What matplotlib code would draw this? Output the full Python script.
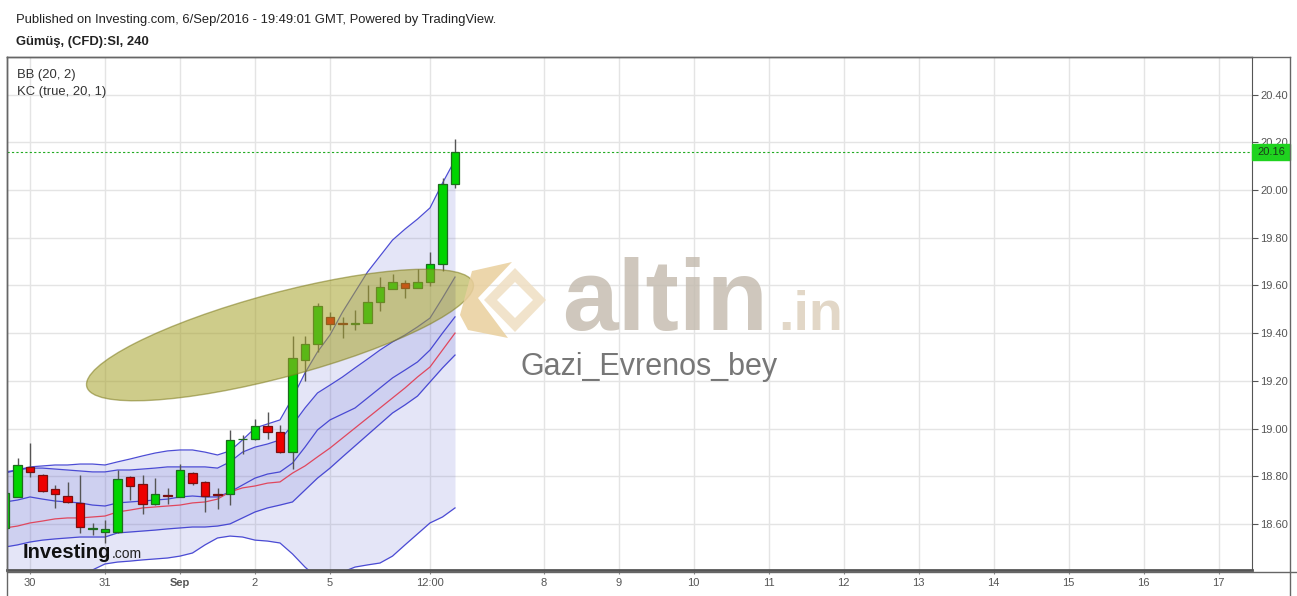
import numpy as np
import matplotlib
matplotlib.use("Agg")
import matplotlib.pyplot as plt
from matplotlib.patches import Ellipse, Rectangle, Polygon
from matplotlib.lines import Line2D
from matplotlib.transforms import Affine2D, blended_transform_factory

plt.rcParams['font.family'] = ['Liberation Sans', 'DejaVu Sans']

W, H = 1297, 596

# 4h candles (silver CFD)
opens  = [18.583, 18.713, 18.839, 18.805, 18.746, 18.717, 18.688, 18.577, 18.566, 18.566,
          18.797, 18.767, 18.683, 18.719, 18.713, 18.813, 18.776, 18.723, 18.725, 18.954,
          18.956, 19.010, 18.985, 18.901, 19.287, 19.354, 19.468, 19.442, 19.440, 19.442,
          19.530, 19.585, 19.610, 19.589, 19.614, 19.690, 20.025]
highs  = [18.742, 18.876, 18.939, 18.809, 18.763, 18.776, 18.805, 18.604, 18.616, 18.826,
          18.801, 18.805, 18.792, 18.751, 18.851, 18.818, 18.780, 18.751, 18.994, 18.973,
          19.040, 19.069, 19.015, 19.388, 19.388, 19.526, 19.488, 19.468, 19.497, 19.602,
          19.635, 19.648, 19.623, 19.669, 19.740, 20.050, 20.214]
lows   = [18.574, 18.713, 18.797, 18.734, 18.667, 18.688, 18.562, 18.553, 18.520, 18.562,
          18.700, 18.642, 18.679, 18.683, 18.713, 18.763, 18.650, 18.662, 18.679, 18.893,
          18.952, 18.956, 18.897, 18.830, 19.199, 19.321, 19.413, 19.379, 19.413, 19.442,
          19.493, 19.585, 19.547, 19.589, 19.597, 19.660, 20.008]
closes = [18.730, 18.847, 18.818, 18.738, 18.725, 18.692, 18.587, 18.579, 18.579, 18.788,
          18.759, 18.683, 18.725, 18.717, 18.826, 18.772, 18.717, 18.721, 18.952, 18.956,
          19.010, 18.985, 18.901, 19.296, 19.354, 19.514, 19.438, 19.440, 19.442, 19.530,
          19.593, 19.614, 19.589, 19.614, 19.690, 20.025, 20.160]

# Bollinger (20, 2)
bb_upper = [18.813, 18.826, 18.839, 18.843, 18.847, 18.847, 18.851, 18.851, 18.847, 18.860,
            18.872, 18.885, 18.897, 18.906, 18.910, 18.910, 18.901, 18.889, 18.906, 18.952,
            19.002, 19.019, 19.036, 19.128, 19.233, 19.321, 19.392, 19.488, 19.572, 19.656,
            19.723, 19.790, 19.836, 19.878, 19.925, 20.029, 20.126]
bb_mid   = [18.583, 18.591, 18.604, 18.612, 18.621, 18.625, 18.625, 18.629, 18.633, 18.650,
            18.658, 18.667, 18.671, 18.675, 18.679, 18.688, 18.692, 18.704, 18.734, 18.751,
            18.759, 18.771, 18.776, 18.813, 18.843, 18.881, 18.918, 18.960, 19.002, 19.044,
            19.086, 19.128, 19.170, 19.216, 19.258, 19.329, 19.400]
bb_lower = [18.352, 18.356, 18.369, 18.382, 18.394, 18.402, 18.398, 18.407, 18.432, 18.440,
            18.444, 18.449, 18.453, 18.457, 18.465, 18.478, 18.512, 18.541, 18.549, 18.545,
            18.532, 18.528, 18.520, 18.474, 18.419, 18.373, 18.356, 18.398, 18.419, 18.428,
            18.436, 18.465, 18.512, 18.558, 18.604, 18.629, 18.667]

# Keltner (true, 20, 1)
kc_upper = [18.818, 18.826, 18.834, 18.834, 18.830, 18.826, 18.822, 18.818, 18.818, 18.826,
            18.826, 18.830, 18.834, 18.839, 18.839, 18.839, 18.839, 18.834, 18.860, 18.901,
            18.922, 18.935, 18.952, 19.015, 19.086, 19.149, 19.182, 19.216, 19.254, 19.291,
            19.329, 19.363, 19.392, 19.426, 19.463, 19.547, 19.635]
kc_mid   = [18.692, 18.700, 18.713, 18.704, 18.696, 18.692, 18.688, 18.679, 18.675, 18.688,
            18.692, 18.696, 18.700, 18.704, 18.713, 18.717, 18.713, 18.713, 18.734, 18.763,
            18.792, 18.809, 18.818, 18.855, 18.922, 18.994, 19.036, 19.061, 19.086, 19.128,
            19.170, 19.212, 19.245, 19.279, 19.329, 19.400, 19.468]
kc_lower = [18.503, 18.512, 18.524, 18.532, 18.537, 18.541, 18.545, 18.545, 18.545, 18.562,
            18.566, 18.570, 18.574, 18.579, 18.583, 18.587, 18.587, 18.591, 18.600, 18.625,
            18.650, 18.667, 18.679, 18.692, 18.742, 18.792, 18.834, 18.881, 18.927, 18.973,
            19.019, 19.065, 19.099, 19.136, 19.195, 19.254, 19.308]

last_price = 20.16

x_tick_pos = [2, 8, 14, 20, 26, 34, 43.1, 49.1, 55.1, 61.1, 67.1, 73.1, 79.1, 85.1, 91.1, 97.1]
x_tick_labels = ["30", "31", "Sep", "2", "5", "12:00", "8", "9", "10", "11",
                 "12", "13", "14", "15", "16", "17"]
y_ticks = [18.6, 18.8, 19.0, 19.2, 19.4, 19.6, 19.8, 20.0, 20.2, 20.4]

fig = plt.figure(figsize=(W / 100, H / 100), dpi=100)
fig.patch.set_facecolor("white")
# pixel coords (origin top-left) for the decorations
px = Affine2D().scale(0.01, -0.01).translate(0, H / 100) + fig.dpi_scale_trans

ax = fig.add_axes([7 / W, (H - 570) / H, (1252 - 7) / W, (570 - 57) / H])
ax.set_xlim(0.16, 99.76)
ax.set_ylim(18.4067, 20.5577)

idx = np.arange(len(opens))
o = np.array(opens)
c = np.array(closes)
up = c >= o
body_lo = np.minimum(o, c)
body_h = np.maximum(np.abs(c - o), 0.004)

# bands
band = '#6469d2'
ax.fill_between(idx, bb_lower, bb_upper, color=band, alpha=0.17, lw=0, zorder=1)
ax.fill_between(idx, kc_lower, kc_upper, color=band, alpha=0.17, lw=0, zorder=1)
for s in (bb_upper, bb_lower, kc_upper, kc_lower, kc_mid):
    ax.plot(idx, s, color='#3a3ad0', lw=0.9, alpha=0.9, zorder=2)
ax.plot(idx, bb_mid, color='#e0475e', lw=0.9, zorder=2)

# candles
ax.vlines(idx, lows, highs, color='#555555', lw=1, zorder=3)
ax.bar(idx[up], body_h[up], bottom=body_lo[up], width=0.68, color='#00d400',
       edgecolor='#1e6b1e', lw=0.9, zorder=4)
ax.bar(idx[~up], body_h[~up], bottom=body_lo[~up], width=0.68, color='#ee0000',
       edgecolor='#7a1010', lw=0.9, zorder=4)

ax.axhline(last_price, color='#22aa22', lw=0.8, ls=(0, (2, 2)), zorder=2)

# axes look
ax.set_xticks(x_tick_pos)
ax.set_xticklabels(x_tick_labels)
ax.get_xticklabels()[2].set_fontweight('bold')
ax.set_yticks(y_ticks)
ax.set_yticklabels(["%.2f" % v for v in y_ticks])
ax.yaxis.tick_right()
ax.tick_params(axis='y', direction='out', length=4, pad=2, labelsize=8,
               labelcolor='#555555', color='#555555')
ax.tick_params(axis='x', direction='out', length=3, pad=3, labelsize=8,
               labelcolor='#555555', color='#888888')
ax.grid(True, color='#e4e4e4', lw=1, zorder=0)
ax.set_axisbelow(True)
for side in ('top', 'left'):
    ax.spines[side].set_color('#444444')
    ax.spines[side].set_linewidth(1)
ax.spines['right'].set_color('#555555')
ax.spines['bottom'].set_color('#555555')
ax.spines['bottom'].set_linewidth(2)

# last price tag on the scale
tr = blended_transform_factory(ax.transAxes, ax.transData)
ax.add_patch(Rectangle((1.0, last_price - 0.0335), 38 / 1245, 0.067, transform=tr,
                       color='#1fd31f', clip_on=False, zorder=10))
ax.text(1.0 + 5 / 1245, last_price, "%.2f" % last_price, transform=tr, va='center',
        ha='left', fontsize=8, color='#1a3d1a', zorder=11, clip_on=False)

# outer frame
for xs, ys in (([7, 1290], [57, 57]), ([1290, 1290], [57, 596]), ([7, 7], [57, 596]),
               ([7, 1297], [572, 572])):
    fig.add_artist(Line2D(xs, ys, transform=px, color='#666666', lw=1))

# drawn ellipse
fig.add_artist(Ellipse((280, 335), 400, 84, angle=-15, transform=px,
                       facecolor='#a6a22a', alpha=0.55, edgecolor='#7d7a1c', lw=1))

# watermark logo
fig.add_artist(Polygon([(472, 271), (512, 262), (478, 298), (508, 338), (468, 330), (460, 315)],
                       closed=True, transform=px, facecolor='#e9cf9d', alpha=0.85, lw=0))
fig.add_artist(Polygon([(515, 268), (546, 300), (515, 332), (484, 300), (497, 300),
                        (515, 318), (533, 300), (515, 282), (497, 300), (484, 300)],
                       closed=True, transform=px, facecolor='#efdfc2', alpha=0.85, lw=0))
fig.text(562, 330, "altin", transform=px, fontsize=72, fontweight='bold',
         color='#c3baad', alpha=0.8, va='baseline', ha='left')
fig.text(778, 330, ".in", transform=px, fontsize=40, fontweight='bold',
         color='#ddd1bd', alpha=0.85, va='baseline', ha='left')
fig.text(520, 375, "Gazi_Evrenos_bey", transform=px, fontsize=22,
         color='#777777', va='baseline', ha='left')

# Investing.com mark
fig.text(23, 558, "Investing", transform=px, fontsize=14.5, fontweight='bold',
         color='#111111', va='baseline', ha='left')
fig.text(112, 558, ".com", transform=px, fontsize=10, color='#222222',
         va='baseline', ha='left')

# header and legend
fig.text(16, 23, "Published on Investing.com, 6/Sep/2016 - 19:49:01 GMT, Powered by TradingView.",
         transform=px, fontsize=9.4, color='#222222', va='baseline', ha='left')
fig.text(16, 45, "Gümüş, (CFD):SI, 240", transform=px, fontsize=9.4, fontweight='bold',
         color='#222222', va='baseline', ha='left')
fig.text(17, 78, "BB (20, 2)", transform=px, fontsize=9.4, color='#333333',
         va='baseline', ha='left')
fig.text(17, 95, "KC (true, 20, 1)", transform=px, fontsize=9.4, color='#333333',
         va='baseline', ha='left')

fig.savefig("out.png", dpi=100)
